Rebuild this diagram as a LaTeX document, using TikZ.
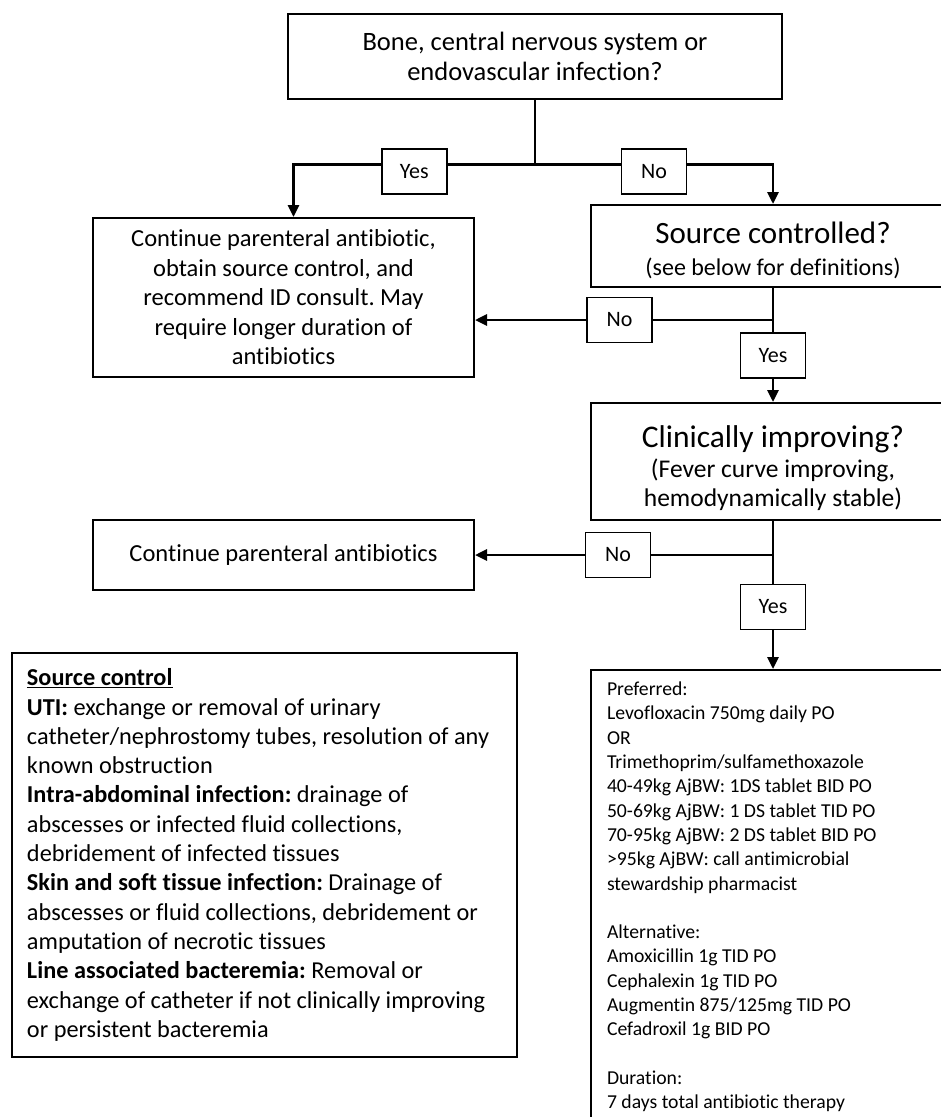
\documentclass[tikz,border=0pt]{standalone}
\usepackage{fontspec}
\setmainfont{Carlito}[Ligatures=NoCommon]
\frenchspacing
\usetikzlibrary{arrows.meta, positioning}

\begin{document}
\begin{tikzpicture}[
    x=1pt, y=-1pt,
    box/.style={rectangle, draw=black, line width=2pt, align=center, inner sep=0pt},
    question/.style={box, font=\fontsize{24}{29}\selectfont},
    action/.style={box, minimum width=381pt, font=\fontsize{24.5}{29.5}\selectfont},
    answer/.style={rectangle, draw=black, line width=1.5pt, fill=white, minimum width=65pt, minimum height=45pt, inner sep=0pt, font=\fontsize{22}{26}\selectfont},
    notebox/.style={rectangle, draw=black, line width=2pt, align=flush left},
    line/.style={line width=2.8pt},
    arrow/.style={line width=2.8pt, -{Triangle[length=12pt,width=11pt]}}
    ]

\useasboundingbox (0,0) rectangle (941,1117);
\clip (0,0) rectangle (941,1117);

% decisions
\node (infect) [question, minimum width=494pt, minimum height=85pt, font=\fontsize{26.5}{30}\selectfont] at (535,56) {Bone, central nervous system or\\endovascular infection?};
\node (source) [question, minimum width=364pt, minimum height=82pt] at (773,246) {\rule{0pt}{30pt}{\fontsize{31}{34}\selectfont Source controlled?}\\[3pt](see below for definitions)};
\node (clinical) [question, minimum width=364pt, minimum height=117pt, font=\fontsize{25.5}{28.5}\selectfont] at (773,461.5) {\rule{0pt}{35pt}{\fontsize{31.5}{36}\selectfont Clinically improving?}\\[1.5pt](Fever curve improving,\\hemodynamically stable)};

% actions
\node (parent) [action, minimum height=159pt] at (283.5,297.5) {Continue parenteral antibiotic,\\obtain source control, and\\recommend ID consult. May\\require longer duration of\\antibiotics};
\node (paren2) [action, minimum height=70pt] at (283.5,555) {Continue parenteral antibiotics};

% notes
\node (defs) [notebox, line width=1.5pt, minimum width=505pt, minimum height=404pt, text width=475pt, inner xsep=15pt, font=\fontsize{24.3}{29.3}\selectfont] at (264.5,855) {\underline{\textbf{Source control}}\\
\textbf{UTI:} exchange or removal of urinary\\
catheter/nephrostomy tubes, resolution of any\\
known obstruction\\
\textbf{Intra-abdominal infection:} drainage of\\
abscesses or infected fluid collections,\\
debridement of infected tissues\\
\textbf{Skin and soft tissue infection:} Drainage of\\
abscesses or fluid collections, debridement or\\
amputation of necrotic tissues\\
\textbf{Line associated bacteremia:} Removal or\\
exchange of catheter if not clinically improving\\
or persistent bacteremia};
\node (regimen) [notebox, anchor=north west, text width=340pt, inner xsep=16pt, inner ysep=12pt, font=\fontsize{19.7}{24.3}\selectfont] at (590,669) {Preferred:\\
Levofloxacin 750mg daily PO\\
OR\\
Trimethoprim/sulfamethoxazole\\
40-49kg AjBW: 1DS tablet BID PO\\
50-69kg AjBW: 1 DS tablet TID PO\\
70-95kg AjBW: 2 DS tablet BID PO\\
>95kg AjBW: call antimicrobial\\
stewardship pharmacist\\[24.3pt]
Alternative:\\
Amoxicillin 1g TID PO\\
Cephalexin 1g TID PO\\
Augmentin 875/125mg TID PO\\
Cefadroxil 1g BID PO\\[24.3pt]
Duration:\\
7 days total antibiotic therapy};

% connectors
\coordinate (split) at ([yshift=-65pt]infect.south);
\coordinate (fork1) at ([yshift=-32pt]source.south);
\coordinate (fork2) at ([yshift=-34pt]clinical.south);

\draw [line] (infect.south) -- (split);
\draw [arrow] (split) -| node[answer, pos=0.25, yshift=-7pt] {Yes} ([xshift=10pt]parent.north);
\draw [arrow] (split) -| node[answer, pos=0.25, yshift=-7pt] {No} (source.north);

\draw [arrow] (source.south) -- node[answer, pos=0.59] {Yes} (clinical.north);
\draw [arrow] (fork1) -- node[answer, pos=0.515] {No} (fork1 -| parent.east);

\draw [arrow] (clinical.south) -- node[answer, pos=0.58] {Yes} (clinical.south |- regimen.north);
\draw [arrow] (fork2) -- node[answer, pos=0.52] {No} (fork2 -| paren2.east);
\end{tikzpicture}
\end{document}
